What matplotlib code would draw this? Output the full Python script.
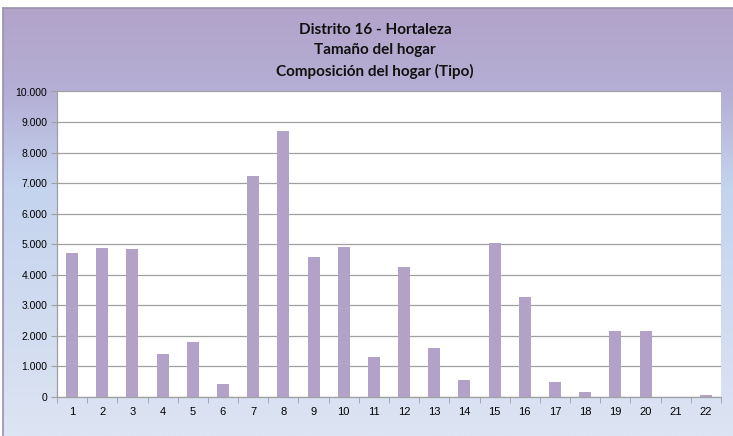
import numpy as np
import matplotlib
matplotlib.use("Agg")
import matplotlib.pyplot as plt
from matplotlib.ticker import FuncFormatter, FixedLocator
from matplotlib.colors import LinearSegmentedColormap

# Datos
tipos = [str(i) for i in range(1, 23)]
hogares = [4720, 4890, 4860, 1395, 1810, 425, 7245, 8715, 4585, 4910, 1310,
           4250, 1600, 545, 5050, 3260, 490, 150, 2150, 2170, 10, 75]
titulo = "Distrito 16 - Hortaleza\nTamaño del hogar\nComposición del hogar (Tipo)"

W, H = 733, 436
fig = plt.figure(figsize=(W / 100, H / 100), dpi=100)

# fondo degradado del area del grafico
bg = fig.add_axes([3 / W, 0, 1 - 3 / W, (H - 8) / H])
cmap = LinearSegmentedColormap.from_list(
    "fondo", [(0.0, "#b2a3c9"), (0.2, "#b5afd5"), (0.42, "#c4d3ee"), (1.0, "#dde4f3")])
grad = np.linspace(0, 1, 256).reshape(-1, 1)
bg.imshow(grad, aspect="auto", cmap=cmap, extent=[0, 1, 1, 0])
bg.set_axis_off()
fig.add_artist(plt.Line2D([3 / W, 1], [(H - 8) / H] * 2, color="#9a90ad", lw=1.2))
fig.add_artist(plt.Line2D([3 / W] * 2, [0, (H - 8) / H], color="#9a90ad", lw=1.2))

# area de trazado
left, right, top, bottom = 57, 721, 91.5, 397
ax = fig.add_axes([left / W, 1 - bottom / H, (right - left) / W, (bottom - top) / H])
ax.set_facecolor("white")
x = np.arange(len(tipos))
ax.bar(x, hogares, width=0.4, color="#b3a2c8", zorder=3)
ax.set_xlim(-0.5, len(tipos) - 0.5)
ax.set_ylim(0, 10000)
ax.set_yticks(np.arange(0, 10001, 1000))
ax.yaxis.set_major_formatter(FuncFormatter(lambda v, p: f"{int(v):,}".replace(",", ".")))
ax.set_xticks(x)
ax.set_xticklabels(tipos)
ax.xaxis.set_minor_locator(FixedLocator(np.arange(-0.5, len(tipos), 1)))
ax.tick_params(axis="x", which="major", length=0, pad=7, labelsize=8)
ax.tick_params(axis="x", which="minor", length=4, color="#a0a0a0", direction="out")
ax.tick_params(axis="y", length=4, color="#a0a0a0", labelsize=7.5, pad=3)
for lbl in ax.get_xticklabels() + ax.get_yticklabels():
    lbl.set_fontfamily("Liberation Sans")
ax.grid(axis="y", color="#a0a0a0", lw=0.9, zorder=1)
for s in ["top", "right"]:
    ax.spines[s].set_visible(False)
for s in ["left", "bottom"]:
    ax.spines[s].set_color("#a0a0a0")
    ax.spines[s].set_linewidth(0.9)

fig.text(375 / W, 1 - 51 / H, titulo, ha="center", va="center", fontsize=11,
         fontweight="bold", fontfamily="Lato", linespacing=1.55, color="#111111")

fig.savefig("out.png", dpi=100)
